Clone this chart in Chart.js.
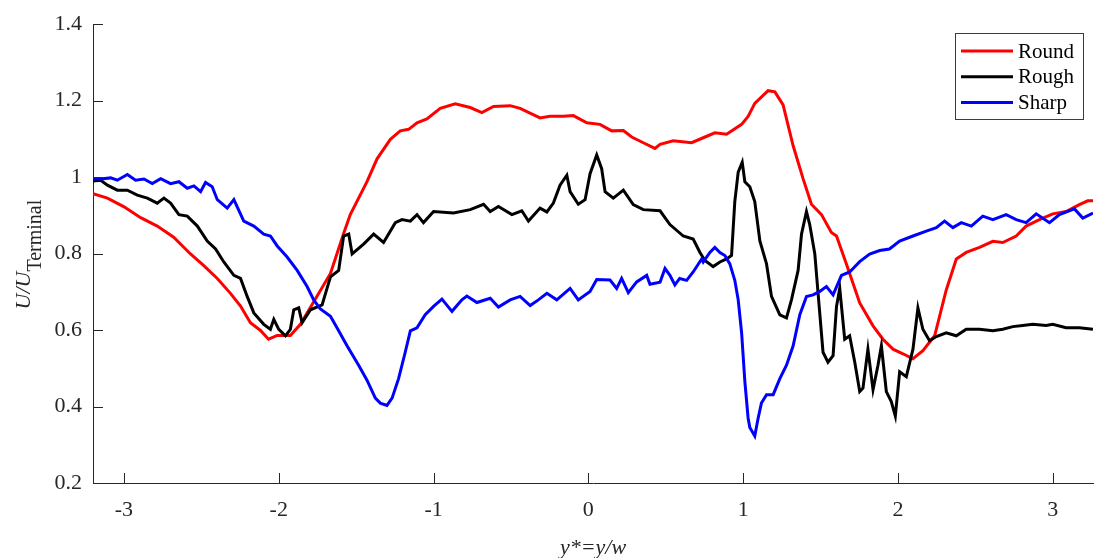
<!DOCTYPE html>
<html>
<head>
<meta charset="utf-8">
<script src="https://cdn.jsdelivr.net/npm/chart.js@4/dist/chart.umd.min.js"></script>
<style>
  html, body { margin: 0; padding: 0; background: #fff; }
  #caixa { width: 1094px; height: 558px; }
</style>
</head>
<body>
<div id="caixa"><canvas id="grafico" width="1094" height="558"></canvas></div>
<script>
// valores (y* = y/w  vs  U/U_Terminal)
const roundX = [-3.2, -3.107, -3.002, -2.892, -2.785, -2.679, -2.57, -2.486, -2.397, -2.312, -2.247, -2.183, -2.118, -2.066, -2.01, -1.925, -1.86, -1.752, -1.666, -1.583, -1.538, -1.43, -1.365, -1.279, -1.215, -1.161, -1.107, -1.043, -0.957, -0.86, -0.763, -0.688, -0.613, -0.505, -0.441, -0.312, -0.248, -0.161, -0.097, -0.01, 0.075, 0.151, 0.226, 0.28, 0.355, 0.43, 0.463, 0.548, 0.667, 0.742, 0.817, 0.893, 0.99, 1.032, 1.075, 1.161, 1.205, 1.258, 1.323, 1.387, 1.441, 1.506, 1.57, 1.603, 1.667, 1.753, 1.839, 1.903, 1.968, 2.032, 2.097, 2.161, 2.237, 2.312, 2.377, 2.441, 2.527, 2.613, 2.677, 2.764, 2.828, 2.914, 3.0, 3.086, 3.172, 3.226, 3.26];
const roundY = [0.957, 0.945, 0.923, 0.894, 0.872, 0.843, 0.799, 0.769, 0.735, 0.696, 0.663, 0.619, 0.599, 0.576, 0.586, 0.586, 0.615, 0.689, 0.748, 0.85, 0.902, 0.988, 1.048, 1.099, 1.121, 1.125, 1.142, 1.152, 1.18, 1.192, 1.182, 1.169, 1.185, 1.187, 1.18, 1.155, 1.159, 1.159, 1.161, 1.142, 1.138, 1.121, 1.122, 1.105, 1.09, 1.075, 1.086, 1.095, 1.09, 1.103, 1.116, 1.112, 1.138, 1.159, 1.193, 1.226, 1.223, 1.189, 1.082, 0.996, 0.929, 0.902, 0.855, 0.846, 0.773, 0.671, 0.611, 0.576, 0.55, 0.538, 0.525, 0.546, 0.585, 0.705, 0.786, 0.803, 0.816, 0.832, 0.829, 0.846, 0.872, 0.889, 0.904, 0.91, 0.928, 0.938, 0.938];

const roughX = [-3.2, -3.15, -3.107, -3.043, -2.978, -2.914, -2.849, -2.785, -2.742, -2.699, -2.645, -2.591, -2.526, -2.462, -2.408, -2.355, -2.29, -2.247, -2.204, -2.161, -2.097, -2.054, -2.032, -2.0, -1.957, -1.925, -1.903, -1.871, -1.849, -1.795, -1.72, -1.666, -1.613, -1.581, -1.548, -1.526, -1.452, -1.387, -1.323, -1.247, -1.204, -1.15, -1.107, -1.065, -1.0, -0.871, -0.763, -0.677, -0.634, -0.581, -0.494, -0.43, -0.387, -0.312, -0.268, -0.226, -0.183, -0.139, -0.118, -0.065, -0.021, 0.011, 0.054, 0.086, 0.108, 0.161, 0.226, 0.29, 0.355, 0.463, 0.527, 0.613, 0.677, 0.721, 0.753, 0.806, 0.85, 0.893, 0.925, 0.946, 0.968, 0.994, 1.011, 1.043, 1.075, 1.108, 1.151, 1.183, 1.237, 1.28, 1.312, 1.355, 1.377, 1.409, 1.43, 1.463, 1.484, 1.516, 1.548, 1.581, 1.603, 1.624, 1.656, 1.688, 1.721, 1.753, 1.774, 1.806, 1.839, 1.871, 1.893, 1.925, 1.957, 1.983, 2.011, 2.054, 2.097, 2.129, 2.161, 2.204, 2.248, 2.312, 2.377, 2.441, 2.527, 2.613, 2.677, 2.742, 2.806, 2.871, 2.957, 3.0, 3.086, 3.172, 3.26];
const roughY = [0.99, 0.992, 0.979, 0.966, 0.966, 0.953, 0.945, 0.932, 0.945, 0.932, 0.902, 0.898, 0.872, 0.833, 0.812, 0.778, 0.743, 0.735, 0.688, 0.645, 0.615, 0.602, 0.628, 0.602, 0.585, 0.602, 0.653, 0.658, 0.619, 0.653, 0.666, 0.739, 0.756, 0.846, 0.851, 0.799, 0.825, 0.851, 0.829, 0.881, 0.889, 0.885, 0.902, 0.881, 0.91, 0.906, 0.915, 0.929, 0.91, 0.923, 0.902, 0.912, 0.885, 0.919, 0.909, 0.932, 0.979, 1.005, 0.962, 0.929, 0.941, 1.009, 1.058, 1.022, 0.962, 0.945, 0.966, 0.928, 0.915, 0.912, 0.876, 0.846, 0.838, 0.803, 0.782, 0.766, 0.778, 0.786, 0.795, 0.936, 1.013, 1.039, 0.988, 0.975, 0.936, 0.833, 0.773, 0.688, 0.64, 0.632, 0.679, 0.756, 0.851, 0.91, 0.876, 0.799, 0.696, 0.542, 0.516, 0.533, 0.662, 0.709, 0.576, 0.585, 0.516, 0.439, 0.448, 0.55, 0.444, 0.508, 0.559, 0.439, 0.413, 0.375, 0.491, 0.478, 0.55, 0.658, 0.602, 0.572, 0.583, 0.593, 0.585, 0.602, 0.602, 0.598, 0.602, 0.609, 0.612, 0.615, 0.612, 0.615, 0.606, 0.606, 0.602];

const sharpX = [-3.2, -3.15, -3.086, -3.043, -2.978, -2.925, -2.871, -2.817, -2.763, -2.699, -2.645, -2.591, -2.548, -2.505, -2.473, -2.43, -2.397, -2.333, -2.29, -2.226, -2.161, -2.097, -2.054, -2.01, -1.946, -1.881, -1.817, -1.774, -1.731, -1.666, -1.613, -1.559, -1.484, -1.43, -1.376, -1.344, -1.301, -1.268, -1.226, -1.183, -1.15, -1.107, -1.054, -1.0, -0.946, -0.881, -0.817, -0.785, -0.72, -0.634, -0.581, -0.505, -0.441, -0.376, -0.323, -0.268, -0.204, -0.118, -0.065, 0.011, 0.054, 0.14, 0.183, 0.215, 0.258, 0.312, 0.377, 0.398, 0.463, 0.495, 0.527, 0.559, 0.59, 0.635, 0.677, 0.732, 0.742, 0.785, 0.817, 0.85, 0.882, 0.914, 0.946, 0.968, 0.99, 1.011, 1.032, 1.043, 1.075, 1.097, 1.118, 1.151, 1.194, 1.237, 1.28, 1.323, 1.366, 1.409, 1.452, 1.495, 1.538, 1.581, 1.635, 1.688, 1.753, 1.817, 1.882, 1.945, 2.011, 2.097, 2.183, 2.248, 2.301, 2.355, 2.409, 2.474, 2.548, 2.613, 2.699, 2.764, 2.828, 2.893, 2.979, 3.043, 3.14, 3.194, 3.26];
const sharpY = [0.996, 0.995, 0.998, 0.992, 1.007, 0.992, 0.995, 0.983, 0.996, 0.983, 0.988, 0.971, 0.977, 0.962, 0.986, 0.975, 0.941, 0.919, 0.941, 0.885, 0.872, 0.851, 0.846, 0.82, 0.791, 0.756, 0.714, 0.679, 0.655, 0.636, 0.598, 0.559, 0.508, 0.469, 0.422, 0.409, 0.403, 0.422, 0.473, 0.542, 0.598, 0.606, 0.64, 0.662, 0.681, 0.649, 0.679, 0.689, 0.672, 0.683, 0.66, 0.679, 0.688, 0.664, 0.679, 0.696, 0.679, 0.709, 0.679, 0.701, 0.732, 0.731, 0.709, 0.735, 0.698, 0.726, 0.743, 0.72, 0.725, 0.761, 0.743, 0.718, 0.735, 0.73, 0.752, 0.786, 0.778, 0.803, 0.816, 0.803, 0.795, 0.773, 0.73, 0.679, 0.593, 0.465, 0.37, 0.345, 0.323, 0.37, 0.409, 0.431, 0.431, 0.473, 0.508, 0.559, 0.64, 0.688, 0.692, 0.701, 0.714, 0.692, 0.743, 0.752, 0.779, 0.799, 0.808, 0.812, 0.833, 0.846, 0.859, 0.868, 0.885, 0.868, 0.881, 0.872, 0.898, 0.889, 0.902, 0.889, 0.881, 0.904, 0.881, 0.902, 0.917, 0.893, 0.906];

const nomesSeries = ["Round", "Rough", "Sharp"];
const coresSeries = ["#ff0000", "#000000", "#0000ff"];

const ticksX = [-3, -2, -1, 0, 1, 2, 3];
const ticksY = [0.2, 0.4, 0.6, 0.8, 1.0, 1.2, 1.4];
const rotulosY = ["0.2", "0.4", "0.6", "0.8", "1", "1.2", "1.4"];

const fonte = '"Liberation Serif", "Times New Roman", serif';
const corEixo = "#262626";

function pontos(xs, ys) {
  return xs.map((x, i) => ({ x: x, y: ys[i] }));
}

const seriesDados = [pontos(roundX, roundY), pontos(roughX, roughY), pontos(sharpX, sharpY)];

//marcas dos eixos para dentro, titulos e legenda
const pluginEixos = {
  id: "pluginEixos",
  afterDraw(chart) {
    const ctx = chart.ctx;
    const area = chart.chartArea;
    const sx = chart.scales.x;
    const sy = chart.scales.y;

    ctx.save();
    ctx.strokeStyle = corEixo;
    ctx.lineWidth = 1;
    ctx.beginPath();
    ticksX.forEach((v) => {
      const px = Math.round(sx.getPixelForValue(v)) + 0.5;
      ctx.moveTo(px, area.bottom);
      ctx.lineTo(px, area.bottom - 10);
    });
    ticksY.forEach((v) => {
      const py = Math.round(sy.getPixelForValue(v)) + 0.5;
      ctx.moveTo(area.left, py);
      ctx.lineTo(area.left + 10, py);
    });
    ctx.stroke();

    // titulo do eixo x
    ctx.fillStyle = corEixo;
    ctx.font = "italic 22px " + fonte;
    ctx.textAlign = "center";
    ctx.textBaseline = "alphabetic";
    ctx.fillText("y*=y/w", (area.left + area.right) / 2, 554);

    // titulo do eixo y com subscrito
    const t1 = "U/U";
    const t2 = "Terminal";
    ctx.font = "italic 22px " + fonte;
    const w1 = ctx.measureText(t1).width;
    ctx.font = "20px " + fonte;
    const w2 = ctx.measureText(t2).width;
    ctx.translate(30, (area.top + area.bottom) / 2 + 1);
    ctx.rotate(-Math.PI / 2);
    ctx.textAlign = "left";
    const a0 = -(w1 + w2) / 2;
    ctx.font = "italic 22px " + fonte;
    ctx.fillText(t1, a0, 0);
    ctx.font = "20px " + fonte;
    ctx.fillText(t2, a0 + w1, 11);
    ctx.restore();

    // legenda
    ctx.save();
    ctx.fillStyle = "#ffffff";
    ctx.fillRect(955.5, 33.5, 128, 86);
    ctx.strokeStyle = "#3c3c3c";
    ctx.lineWidth = 1;
    ctx.strokeRect(955.5, 33.5, 128, 86);
    ctx.font = "21px " + fonte;
    ctx.textAlign = "left";
    ctx.textBaseline = "middle";
    chart.data.datasets.forEach((ds, i) => {
      const y = 51 + i * 25.8;
      ctx.strokeStyle = ds.borderColor;
      ctx.lineWidth = 3;
      ctx.beginPath();
      ctx.moveTo(961, y);
      ctx.lineTo(1013, y);
      ctx.stroke();
      ctx.fillStyle = "#000000";
      ctx.fillText(ds.label, 1018, y + 1);
    });
    ctx.restore();
  },
};

new Chart(document.getElementById("grafico"), {
  type: "line",
  data: {
    datasets: seriesDados.map((d, i) => ({
      label: nomesSeries[i],
      data: d,
      borderColor: coresSeries[i],
      backgroundColor: coresSeries[i],
      borderWidth: 3,
      pointRadius: 0,
      tension: 0,
      fill: false,
      order: 3 - i,
    })),
  },
  options: {
    responsive: false,
    animation: false,
    layout: { padding: { top: 16, right: 1, left: 0, bottom: 0 } },
    plugins: {
      legend: { display: false },
      tooltip: { enabled: false },
    },
    scales: {
      x: {
        type: "linear",
        min: -3.2,
        max: 3.26,
        grid: { display: false, drawTicks: false },
        border: { display: true, color: corEixo, width: 1 },
        ticks: {
          color: corEixo,
          padding: 14,
          maxRotation: 0,
          font: { family: fonte, size: 22 },
          callback: (v) => String(v),
        },
        afterBuildTicks: (s) => {
          s.ticks = ticksX.map((v) => ({ value: v }));
        },
        afterFit: (s) => {
          s.height = 75;
        },
      },
      y: {
        type: "linear",
        min: 0.2,
        max: 1.4,
        grid: { display: false, drawTicks: false },
        border: { display: true, color: corEixo, width: 1 },
        ticks: {
          color: corEixo,
          padding: 11,
          font: { family: fonte, size: 22 },
          callback: (v) => rotulosY[ticksY.findIndex((t) => Math.abs(t - v) < 1e-6)],
        },
        afterBuildTicks: (s) => {
          s.ticks = ticksY.map((v) => ({ value: v }));
        },
        afterFit: (s) => {
          s.width = 93;
        },
      },
    },
  },
  plugins: [pluginEixos],
});
</script>
</body>
</html>
